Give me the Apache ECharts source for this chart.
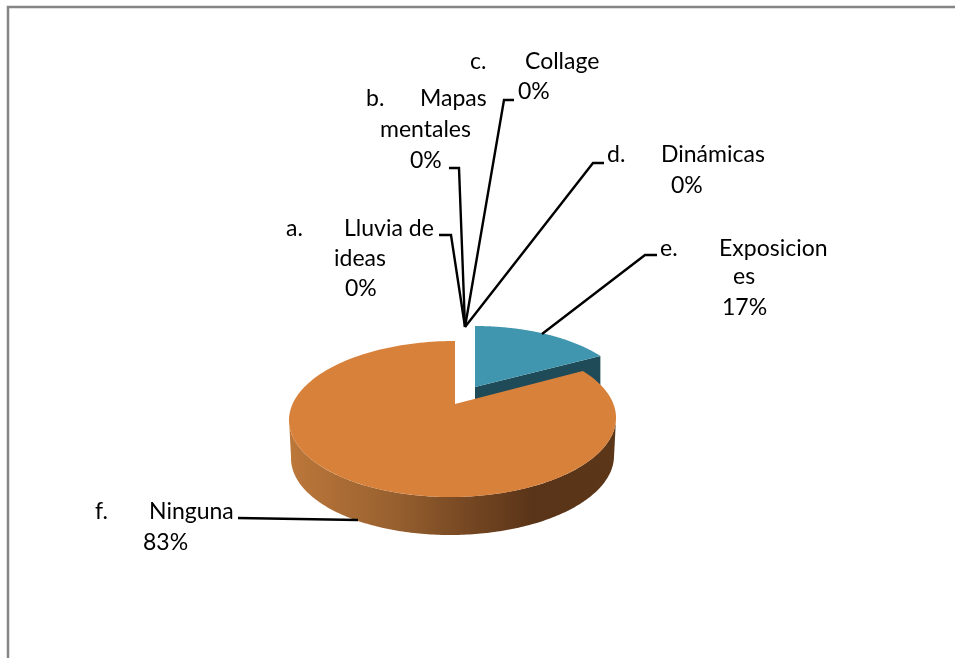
<!DOCTYPE html>
<html><head><meta charset="utf-8">
<style>html,body{margin:0;padding:0;background:#fff}#c{width:955px;height:658px}</style>
<script src="https://cdn.jsdelivr.net/npm/echarts@6/dist/echarts.min.js"></script>
</head><body><div id="c"></div>
<script>
// --- data ---
const markers = ['a.','b.','c.','d.','e.','f.'];
const nameLines = [['Lluvia de','ideas'],['Mapas','mentales'],['Collage'],['Dinámicas'],['Exposicion','es'],['Ninguna']];
const shares = [0,0,0,0,17,83];

// --- layout ---
const FONT = '23px Lato, Carlito, sans-serif';
const textSpots = [
  [[286,229],[344,229],[334,259],[345,289]],
  [[366,99],[420,99],[380,130],[410,161]],
  [[470,62],[525,62],[518,92]],
  [[607,155],[661,155],[671,186]],
  [[660,249],[719,249],[733,277],[722,308]],
  [[95,512],[149,512],[143,543]]
];
const leaders = [
  [[439,235],[451,235],[465,327]],
  [[449,168],[459,168],[465,327]],
  [[514,100],[504,100],[465,327]],
  [[604,163],[593,163],[465,327]],
  [[657,255],[645,255],[542,334]],
  [[238,518],[358,520]]
];
const PIE = {cx:452.5, cy:419, rx:163.5, ry:78, skew:2.5, apexX:455, apexY:404, depth:38, squeeze:0.823};
const explode = [null,null,null,null,{dx:20,dy:-15,apexDy:-17,shrink:3},{dx:0,dy:0,apexDy:0,shrink:0}];
const topColors = ['#4F81BD','#C0504D','#9BBB59','#8064A2','#4096AF','#D8813B'];
const wallColors = ['#333','#333','#333','#333','#1F4A58',null];

const total = shares.reduce((a,b)=>a+b,0);
// data angle (clockwise from 12 o'clock) -> ellipse parameter under the chart's perspective
function phi(theta){
  return 2*Math.atan2(PIE.squeeze*Math.sin(theta/2), Math.cos(theta/2));
}
function rim(p,o,extraY,shrink){
  return [PIE.cx+o.dx+(PIE.rx-(shrink||0))*Math.sin(p)+PIE.skew*Math.cos(p), PIE.cy+o.dy+(extraY||0)-PIE.ry*Math.cos(p)];
}
function renderItem(params, api){
  const i = params.dataIndex, v = api.value(0);
  const before = shares.slice(0,i).reduce((a,b)=>a+b,0);
  const a0 = before/total*2*Math.PI, a1 = (before+v)/total*2*Math.PI;
  const kids = [];
  if(v>0){
    const o = explode[i];
    const apex = [PIE.apexX+o.dx, PIE.apexY+o.apexDy];
    const top = [apex];
    const N = 180;
    for(let k=0;k<=N;k++) top.push(rim(phi(a0+(a1-a0)*k/N),o,0,o.shrink));
    if(wallColors[i]){
      // straight cut face of the pulled-out slice
      const end = rim(phi(a1),o,0,o.shrink);
      kids.push({type:'polygon',shape:{points:[apex,end,[end[0],end[1]+PIE.depth],[apex[0],apex[1]+PIE.depth]]},style:{fill:wallColors[i]}});
    } else {
      // curved outer wall, from the right extreme to the left extreme
      const w=[], b=[];
      for(let k=0;k<=N;k++){
        const p = Math.PI/2+Math.PI*k/N;
        w.push(rim(p,o)); b.push(rim(p,o,PIE.depth,2));
      }
      kids.push({type:'polygon',shape:{points:w.concat(b.reverse())},style:{
        fill:new echarts.graphic.LinearGradient(291,0,614,0,[
          {offset:0,color:'#BC773A'},{offset:0.3,color:'#9A6230'},{offset:0.55,color:'#754722'},
          {offset:0.75,color:'#5A3418'},{offset:1,color:'#5C3618'}],true)}});
    }
    kids.push({type:'polygon',shape:{points:top},style:{fill:topColors[i]}});
  }
  kids.push({type:'polyline',shape:{points:leaders[i]},style:{stroke:'#000',lineWidth:2.4,fill:null}});
  const strs=[markers[i]].concat(nameLines[i],[v+'%']);
  strs.forEach((s,k)=>kids.push({type:'text',style:{text:s,x:textSpots[i][k][0],y:textSpots[i][k][1],
    font:FONT,fill:'#000',align:'left',verticalAlign:'middle'}}));
  return {type:'group',children:kids};
}
const chart = echarts.init(document.getElementById('c'),null,{renderer:'canvas'});
chart.setOption({
  animation:false,
  backgroundColor:'#fff',
  graphic:[{type:'polyline',silent:true,shape:{points:[[8,658],[8,7],[955,7]]},style:{stroke:'#858585',lineWidth:2.5,fill:null}}],
  series:[{type:'custom',coordinateSystem:'none',silent:true,renderItem,
    encode:{value:0},data:shares.map((v,i)=>({name:markers[i]+' '+nameLines[i].join(''),value:[v]}))}]
});
</script></body></html>
